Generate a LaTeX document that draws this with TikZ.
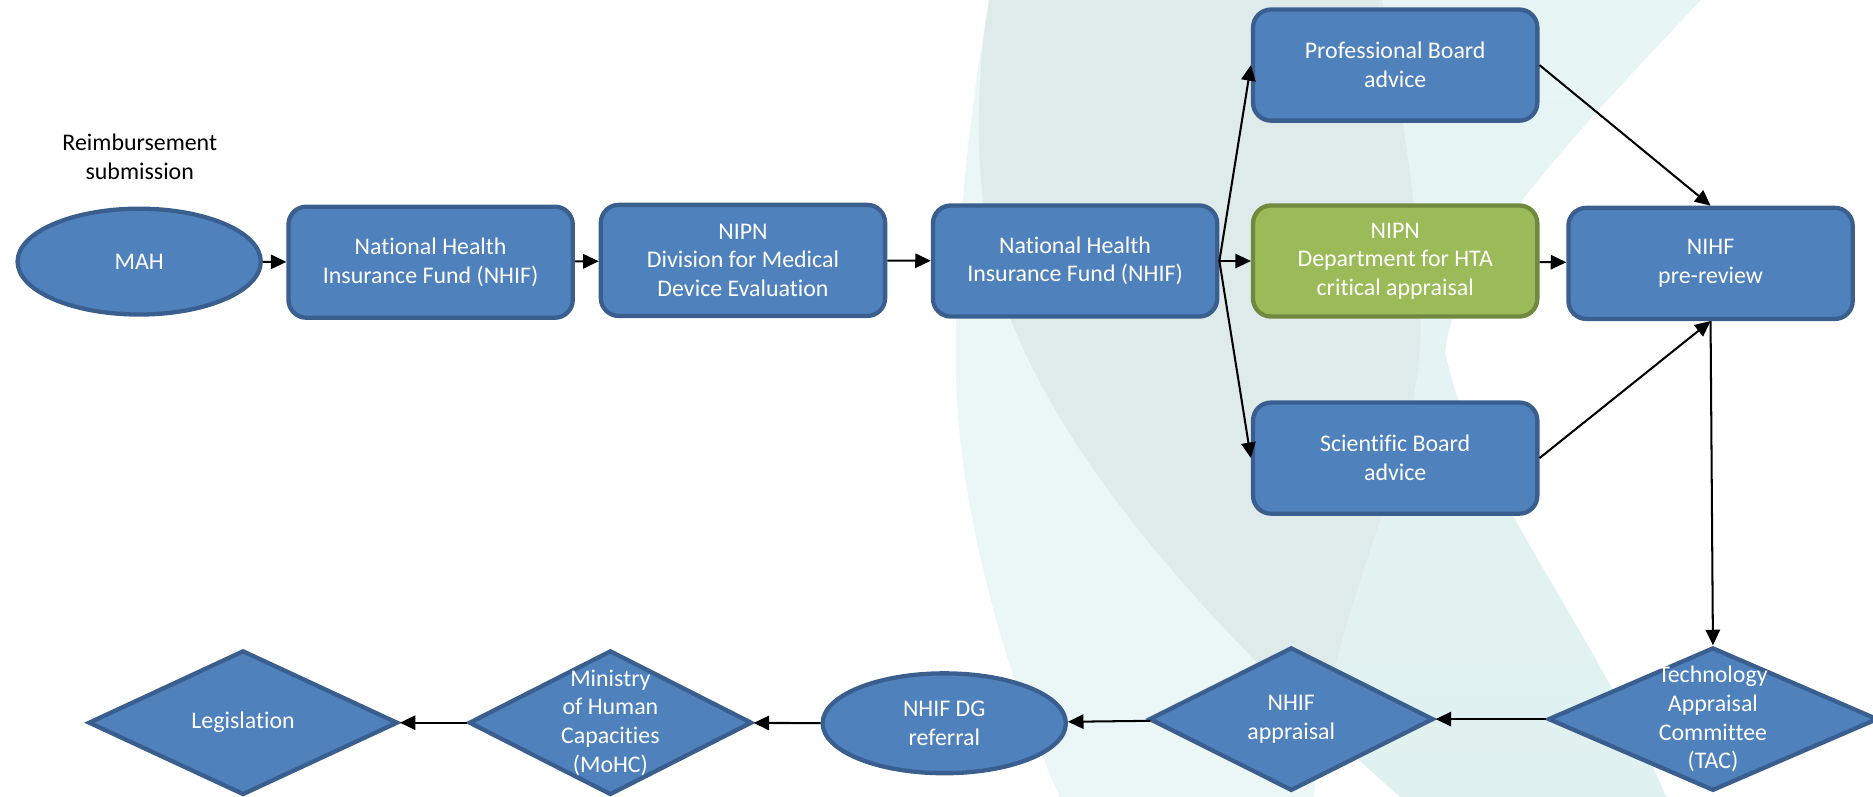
\documentclass[tikz,border=0pt]{standalone}
\usepackage{fontspec}
\setmainfont{Carlito}[Ligatures=NoCommon]
\usetikzlibrary{shapes.geometric,arrows.meta}
\definecolor{boxfill}{HTML}{4F81BD}
\definecolor{boxline}{HTML}{3A5F8E}
\definecolor{grfill}{HTML}{9BBB59}
\definecolor{grline}{HTML}{71893F}
\definecolor{bgA}{HTML}{EBF7F7}
\definecolor{bgBtop}{HTML}{E8F5F5}
\definecolor{bgBbot}{HTML}{DFF1F0}
\definecolor{bgAB}{HTML}{DFEBEB}
\begin{document}
\begin{tikzpicture}[x=1pt,y=-1pt,
  every node/.style={font=\fontsize{20}{24}\selectfont},
  blk/.style={draw=boxline, fill=boxfill, line width=3.6pt, rounded corners=15pt, text=white, align=center, inner sep=0pt, minimum width=238pt, minimum height=93pt},
  grn/.style={blk, draw=grline, fill=grfill},
  ell/.style={ellipse, draw=boxline, fill=boxfill, line width=3.6pt, text=white, align=center, inner sep=0pt},
  dia/.style={diamond, draw=boxline, fill=boxfill, line width=3.6pt, inner sep=0pt},
  dtxt/.style={text=white, align=center, inner sep=0pt, font=\fontsize{20}{24}\selectfont},
  arr/.style={line width=1.7pt, -{Triangle[length=13pt,width=12pt]}},
]
\useasboundingbox (0,0) rectangle (1568,667);
% background
\def\pathA{(828,0) -- (1157,0) .. controls (1175,100) and (1195,220) .. (1188,300) .. controls (1175,420) and (1110,520) .. (1100,667) -- (887,667) .. controls (840,560) and (800,420) .. (800,300) .. controls (800,200) and (812,90) .. (828,0) -- cycle}
\def\pathB{(828,0) -- (1424,0) .. controls (1320,110) and (1215,220) .. (1210,295) .. controls (1230,400) and (1330,520) .. (1395,667) -- (1172,667) .. controls (1050,560) and (890,400) .. (840,250) .. controls (815,170) and (815,80) .. (828,0) -- cycle}
\fill[bgA] \pathA;
\shade[top color=bgBtop, bottom color=bgBbot] \pathB;
\begin{scope}
\clip \pathA;
\fill[bgAB] \pathB;
\end{scope}
% nodes
\node[align=center] (lbl) at (117,131) {Reimbursement\\submission};
\node[ell, minimum width=203.6pt, minimum height=88.6pt] (mah) at (116.5,219) {MAH};
\node[blk] (nhif1) at (360.5,219.5) {National Health\\Insurance Fund (NHIF)};
\node[blk] (nipn1) at (622,218) {NIPN\\Division for Medical\\Device Evaluation};
\node[blk] (nhif2) at (900,218.5) {National Health\\Insurance Fund (NHIF)};
\node[blk] (prof) at (1168,54.5) {Professional Board\\advice};
\node[grn] (hta) at (1168,218.5) {NIPN\\Department for HTA\\critical appraisal};
\node[blk] (pre) at (1432,220.5) {NIHF\\pre-review};
\node[blk] (sci) at (1168,383.5) {Scientific Board\\advice};
\node[dia, minimum width=276pt, minimum height=120pt, label={[dtxt]center:Technology\\Appraisal\\Committee\\(TAC)}] (tac) at (1434,602) {};
\node[dia, minimum width=238pt, minimum height=120pt, label={[dtxt]center:NHIF\\appraisal}] (appr) at (1081,602) {};
\node[ell, minimum width=203.6pt, minimum height=83.6pt] (dg) at (790.5,605.5) {NHIF DG\\referral};
\node[dia, minimum width=237pt, minimum height=121pt, label={[dtxt]center:Ministry\\of Human\\Capacities\\(MoHC)}] (mohc) at (511,605) {};
\node[dia, minimum width=259pt, minimum height=121pt, label={[dtxt]center:Legislation}] (leg) at (203.5,605) {};
% connectors
\draw[arr] (mah) -- (nhif1);
\draw[arr] (nhif1) -- (nipn1);
\draw[arr] (nipn1) -- (nhif2);
\draw[arr] (nhif2.east) -- (prof.west);
\draw[arr] (nhif2.east) -- (hta.west);
\draw[arr] (nhif2.east) -- (sci.west);
\draw[arr] (hta) -- (pre);
\draw[arr] (prof.east) -- (pre.north);
\draw[arr] (sci.east) -- (pre.south);
\draw[arr] (pre.south) -- (tac.north);
\draw[arr] (tac) -- (appr);
\draw[arr] (appr) -- (dg);
\draw[arr] (dg) -- (mohc);
\draw[arr] (mohc) -- (leg);
\end{tikzpicture}
\end{document}
